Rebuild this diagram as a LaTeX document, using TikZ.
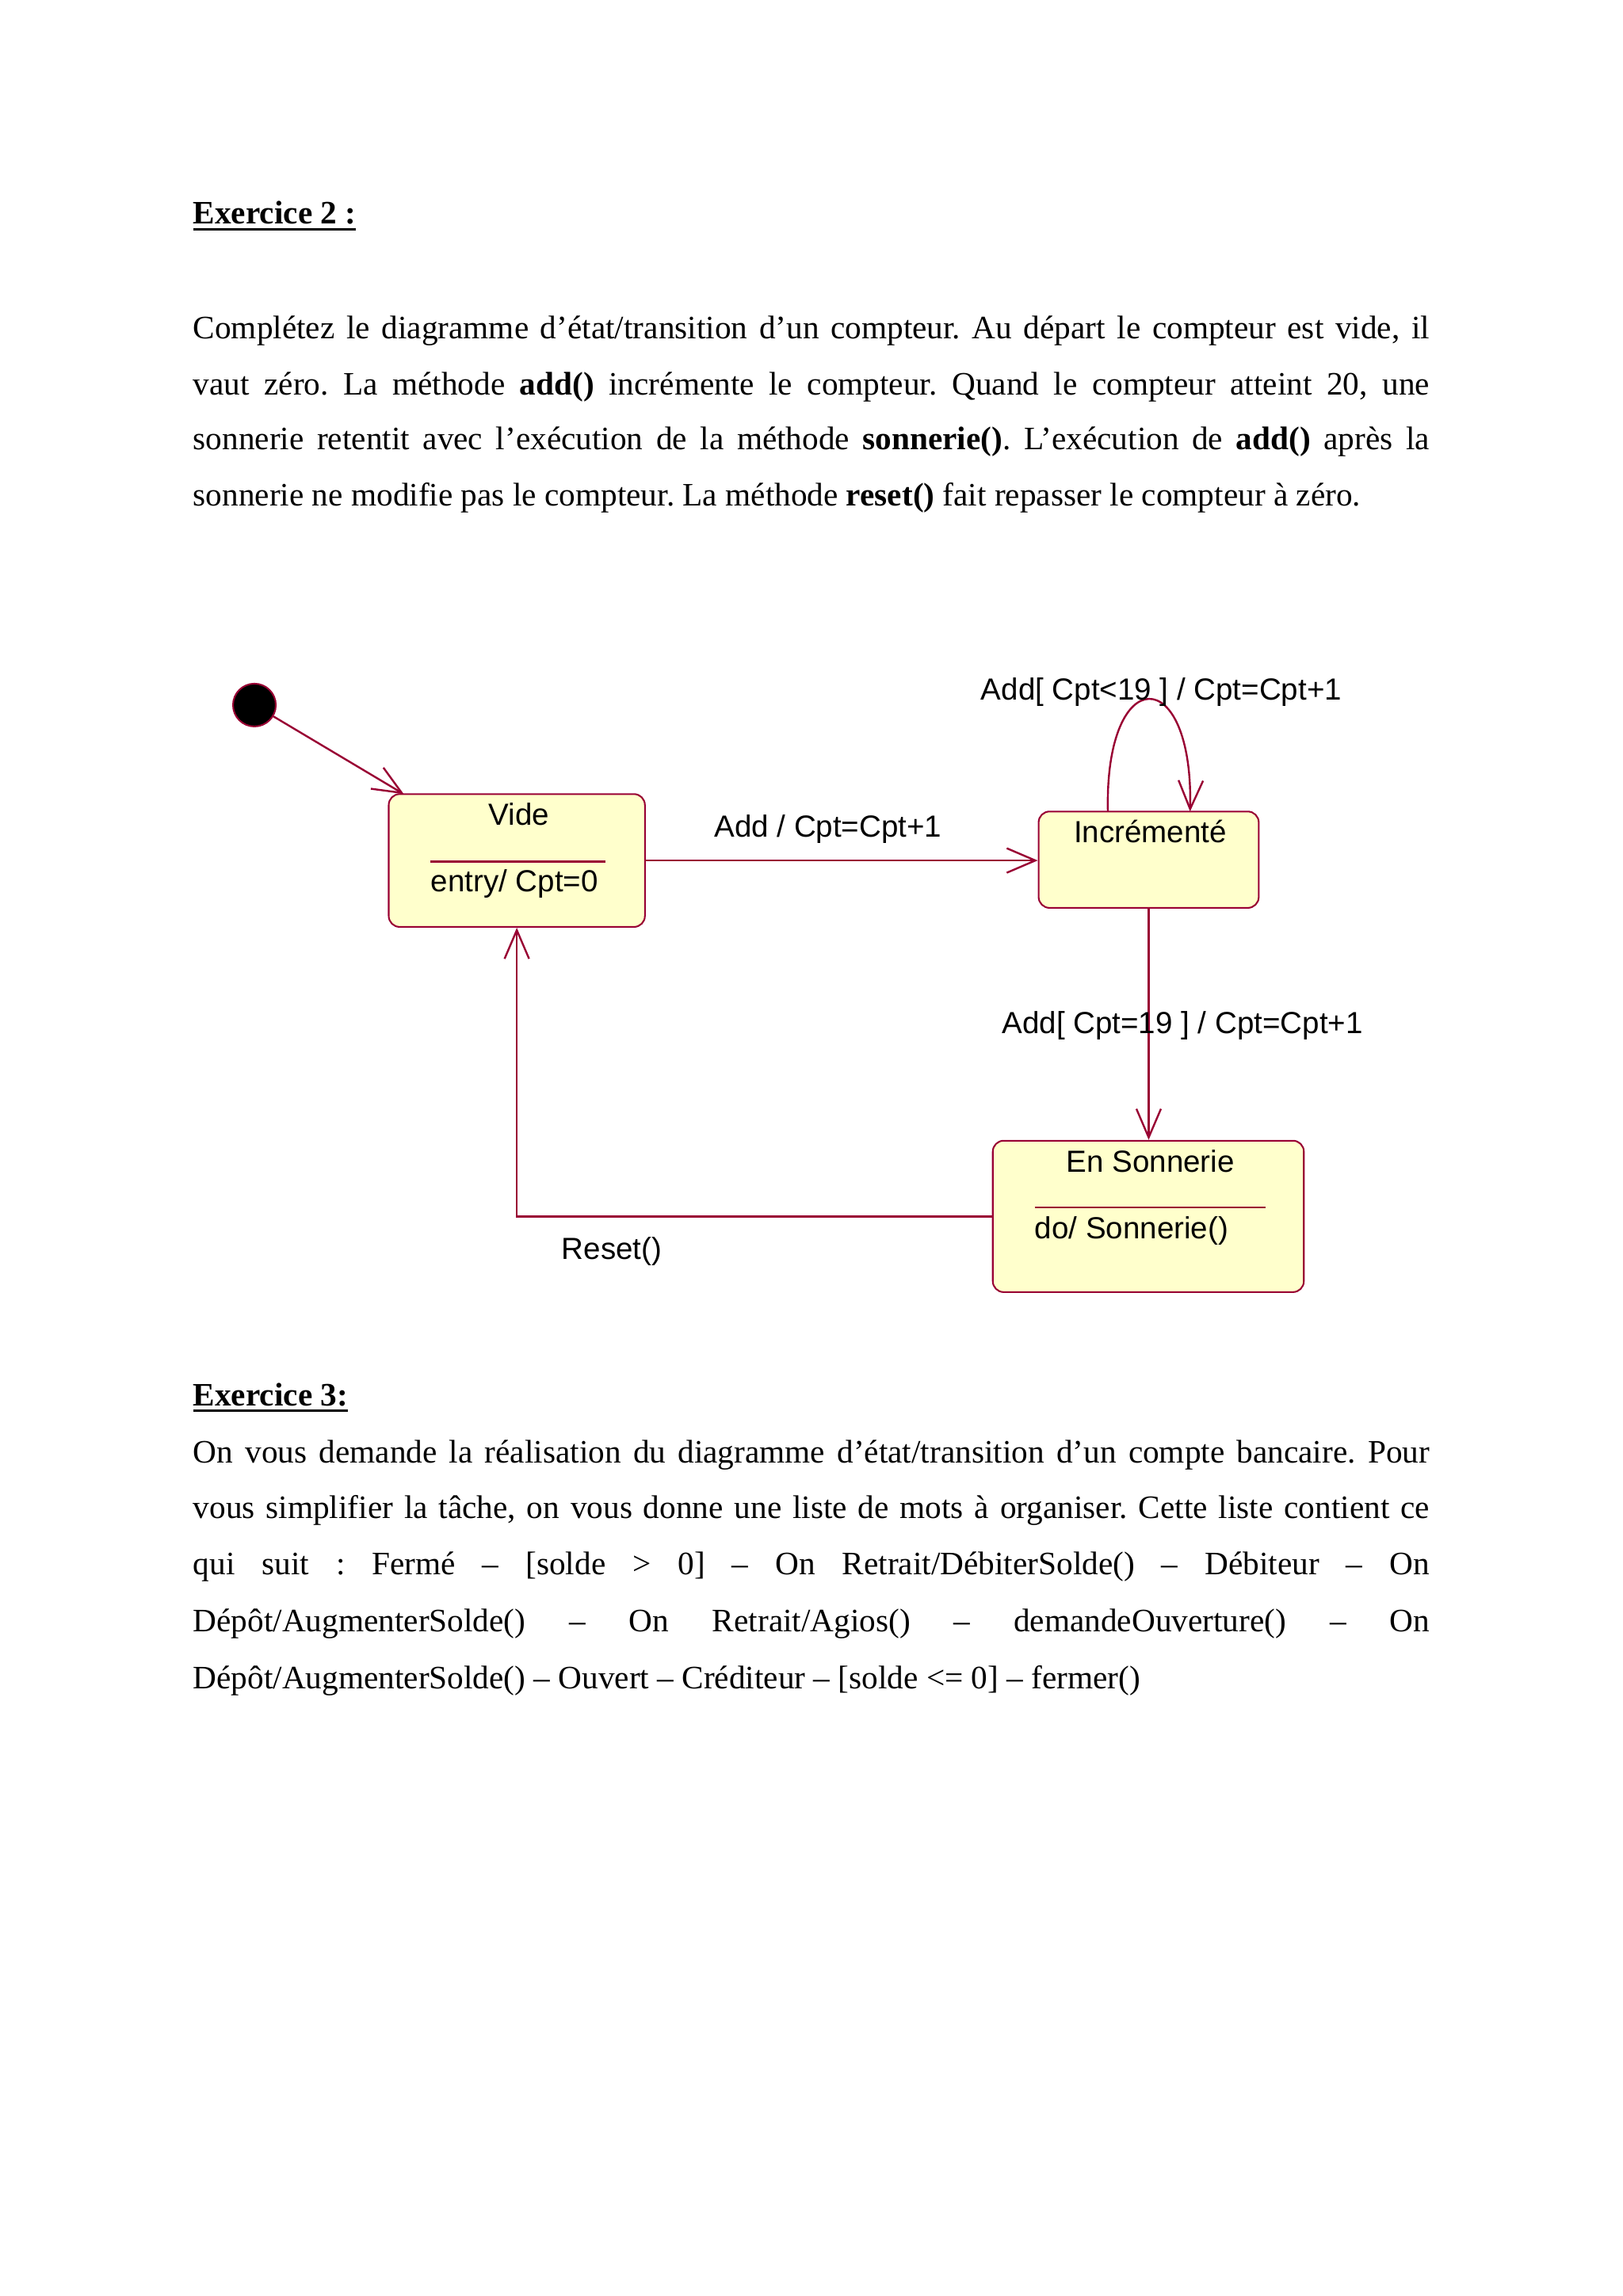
\documentclass[tikz,border=0pt]{standalone}
\usepackage{fontspec}
\setmainfont{Liberation Serif}
\newfontfamily\diagfont{Liberation Sans}
\usetikzlibrary{arrows.meta}
\definecolor{umlline}{RGB}{153,0,51}
\definecolor{umlfill}{RGB}{255,255,204}
\newcommand{\jline}[1]{\makebox[453.5pt][s]{#1}}
\frenchspacing
\begin{document}
\begin{tikzpicture}[x=0.53726pt,y=-0.53726pt,
  txt/.style={anchor=base west,inner sep=0,outer sep=0,font=\fontsize{12}{14}\selectfont\frenchspacing},
  head/.style={txt,font=\fontsize{12}{14}\selectfont\bfseries},
  uline/.style={line width=0.8pt},
  statebox/.style={draw=umlline,fill=umlfill,line width=0.6pt,rounded corners=4pt,inner sep=0},
  lab/.style={inner sep=0,outer sep=0,anchor=base,font=\diagfont\fontsize{11.2}{13}\selectfont},
  labl/.style={lab,anchor=base west},
  divider/.style={draw=umlline,line width=0.6pt},
  trans/.style={draw=umlline,line width=0.7pt,-{Straight Barb[length=10.5pt,width=9pt,line width=0.7pt]}},
]
\useasboundingbox (0,0) rectangle (1108,1568);
\fill[white] (0,0) rectangle (1108,1568);

% ---------- Exercice 2 text ----------
\node[head] (h2) at (131.9,153) {Exercice 2 :};
\draw[uline] ([yshift=-1.9pt]h2.base west) -- ([yshift=-1.9pt]h2.base east);
\node[txt] (p1) at (131.9,231.5) {\jline{Complétez le diagramme d’état/transition d’un compteur. Au départ le compteur est vide, il}};
\node[txt] (p2) at (131.9,269.5) {\jline{vaut zéro. La méthode \textbf{add()} incrémente le compteur. Quand le compteur atteint 20, une}};
\node[txt] (p3) at (131.9,307) {\jline{sonnerie retentit avec l’exécution de la méthode \textbf{sonnerie()}. L’exécution de \textbf{add()} après la}};
\node[txt] (p4) at (131.9,345.2) {sonnerie ne modifie pas le compteur. La méthode \textbf{reset()} fait repasser le compteur à zéro.};

% ---------- Diagram ----------
\node[circle,fill=black,draw=umlline,line width=0.6pt,minimum size=15.7pt,inner sep=0] (init) at (173.7,481.5) {};

\node[statebox,minimum width=93.97pt,minimum height=48.73pt] (vide) at (352.85,587.65) {};
\node[statebox,minimum width=80.75pt,minimum height=35.35pt] (inc) at (784.25,587.1) {};
\node[statebox,minimum width=114.1pt,minimum height=55.55pt] (son) at (784,830.7) {};

\node[lab] (videname) at (354.4,563.6) {Vide};
\draw[divider] (293.7,588.4) coordinate (vdA) -- (413.4,588.4) coordinate (vdB);
\node[labl] (videentry) at (294.3,609.2) {entry/ Cpt=0};

\node[lab] (incname) at (785.4,575.3) {Incrémenté};

\node[lab] (sonname) at (785.5,800.3) {En Sonnerie};
\draw[divider] (706.4,824.5) coordinate (sdA) -- (863.9,824.5) coordinate (sdB);
\node[labl] (sondo) at (706.6,845.8) {do/ Sonnerie()};

% connectors
\coordinate (videtop) at (275.7,542.3);
\draw[trans] (init) -- (videtop);

\draw[trans] (vide.east) -- (vide.east -| inc.west);
\node[lab] (l1) at (565.35,571.7) {Add / Cpt=Cpt+1};

\coordinate (loopA) at (756.4,554.2);
\coordinate (loopB) at (812.5,554.2);
\draw[trans] (loopA) .. controls (754,452) and (815,452) .. (loopB);
\node[lab] (l2) at (792.9,477.9) {Add[ Cpt<19 ] / Cpt=Cpt+1};

\draw[trans] (inc.south) -- (inc.south |- son.north);
\node[lab] (l3) at (807.35,706) {Add[ Cpt=19 ] / Cpt=Cpt+1};

\draw[trans] (son.west) -| (vide.south);
\node[lab] (l4) at (417.7,859.8) {Reset()};

% ---------- Exercice 3 text ----------
\node[head] (h3) at (131.9,960) {Exercice 3:};
\draw[uline] ([yshift=-1.9pt]h3.base west) -- ([yshift=-1.9pt]h3.base east);
\node[txt] (q1) at (131.9,999) {\jline{On vous demande la réalisation du diagramme d’état/transition d’un compte bancaire. Pour}};
\node[txt] (q2) at (131.9,1037) {\jline{vous simplifier la tâche, on vous donne une liste de mots à organiser. Cette liste contient ce}};
\node[txt] (q3) at (131.9,1075.5) {\jline{qui suit : Fermé – [solde > 0] – On Retrait/DébiterSolde() – Débiteur – On}};
\node[txt] (q4) at (131.9,1114.5) {\jline{Dépôt/AugmenterSolde() – On Retrait/Agios() – demandeOuverture() – On}};
\node[txt] (q5) at (131.9,1153) {Dépôt/AugmenterSolde() – Ouvert – Créditeur – [solde <= 0] – fermer()};
\end{tikzpicture}
\end{document}
